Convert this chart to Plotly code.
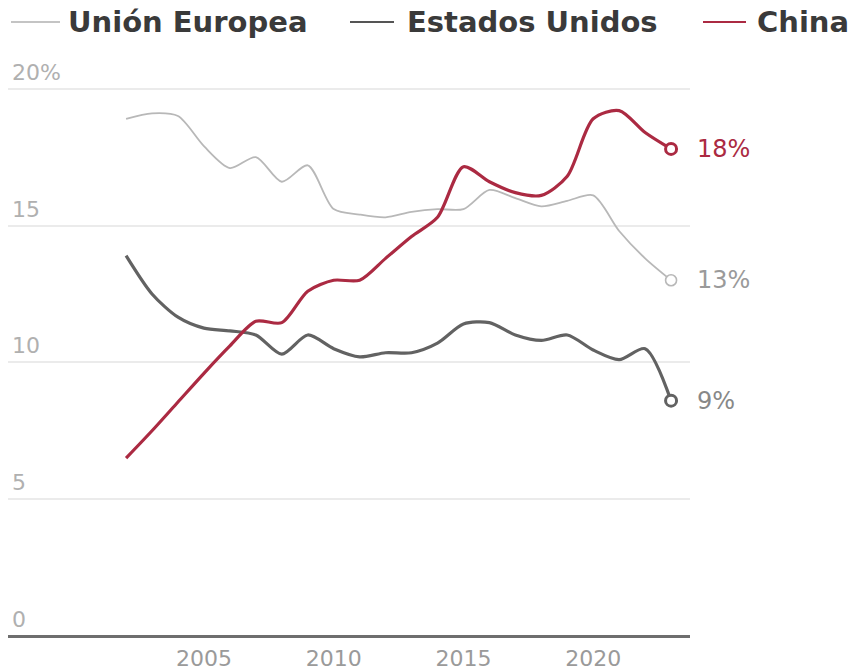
import plotly.graph_objects as go

# Share of the world total (%), 2002-2023
years = list(range(2002, 2024))
union_europea = [18.9, 19.1, 19.0, 17.9, 17.1, 17.5, 16.6, 17.2, 15.6, 15.4, 15.3,
                 15.5, 15.6, 15.6, 16.3, 16.0, 15.7, 15.9, 16.1, 14.8, 13.8, 13.0]
estados_unidos = [13.9, 12.5, 11.65, 11.25, 11.15, 11.0, 10.3, 11.0, 10.5, 10.2, 10.35,
                  10.35, 10.7, 11.4, 11.45, 11.0, 10.8, 11.0, 10.45, 10.1, 10.5, 8.6]
china = [6.5, 7.5, 8.55, 9.6, 10.6, 11.5, 11.45, 12.6, 13.0, 13.0, 13.8,
         14.6, 15.3, 17.15, 16.6, 16.2, 16.1, 16.8, 18.9, 19.2, 18.4, 17.8]

series_names = ["Unión Europea", "Estados Unidos", "China"]
x_ticks = [2005, 2010, 2015, 2020]
y_ticks = [0, 5, 10, 15, 20]
y_tick_text = ["0", "5", "10", "15", "20%"]

FONT = "DejaVu Sans"
W, H = 858, 671
M_L, M_R, M_T, M_B = 8, 168, 75, 35
styles = {
    "Unión Europea": dict(color="#b8b8b8", width=1.8, label="#9a9a9a", mline=1.6,
                          key="#c4c4c4"),
    "Estados Unidos": dict(color="#626262", width=3.2, label="#888888", mline=3,
                           key="#555555"),
    "China": dict(color="#ab2a42", width=3.2, label="#ab2a42", mline=3,
                  key="#ab2a42"),
}

# key row at the top: (line start, line end, text start) in pixels
key_layout = {
    "Unión Europea": (11, 60, 66),
    "Estados Unidos": (350, 394, 405),
    "China": (703, 746, 755),
}
KEY_Y = 22


def px_x(px):
    return (px - M_L) / (W - M_L - M_R)


def px_y(py):
    return (H - M_B - py) / (H - M_T - M_B)


fig = go.Figure()
series = [union_europea, estados_unidos, china]
for name, vals in zip(series_names, series):
    st = styles[name]
    fig.add_trace(go.Scatter(
        x=years, y=vals, mode="lines", name=name, showlegend=False,
        line=dict(color=st["color"], width=st["width"], shape="spline", smoothing=0.8),
        hoverinfo="skip",
    ))
for name, vals in zip(series_names, series):
    st = styles[name]
    fig.add_trace(go.Scatter(
        x=[years[-1]], y=[vals[-1]], mode="markers", showlegend=False,
        marker=dict(symbol="circle", size=11, color="white",
                    line=dict(color=st["color"], width=st["mline"])),
        hoverinfo="skip",
    ))
    fig.add_annotation(
        x=years[-1], y=vals[-1], text=f"{vals[-1]:.0f}%", showarrow=False,
        xanchor="left", yanchor="middle", xshift=24,
        font=dict(family=FONT, size=24, color=st["label"]),
    )

# key entries
for name in series_names:
    st = styles[name]
    x0, x1, xt = key_layout[name]
    fig.add_shape(type="line", xref="paper", yref="paper",
                  x0=px_x(x0), x1=px_x(x1), y0=px_y(KEY_Y), y1=px_y(KEY_Y),
                  line=dict(color=st["key"], width=2))
    fig.add_annotation(
        x=px_x(xt), y=px_y(KEY_Y), xref="paper", yref="paper", text=name,
        showarrow=False, xanchor="left", yanchor="middle",
        font=dict(family=FONT, size=29, color="#3a3a3a", weight="bold"),
    )

# y labels sit above their gridlines at the left edge
for v, t in zip(y_ticks, y_tick_text):
    fig.add_annotation(
        x=0, xref="paper", y=v, yref="y", text=t, showarrow=False,
        xanchor="left", yanchor="bottom", yshift=2, xshift=2,
        font=dict(family=FONT, size=22, color="#b0b0b0"),
    )

fig.update_layout(
    width=W, height=H,
    margin=dict(l=M_L, r=M_R, t=M_T, b=M_B, autoexpand=False),
    paper_bgcolor="white", plot_bgcolor="white",
    showlegend=False,
    xaxis=dict(
        range=[1997.45, 2023.73], tickvals=x_ticks, showgrid=False, zeroline=False,
        ticks="outside", ticklen=3, tickcolor="rgba(0,0,0,0)",
        tickfont=dict(family=FONT, size=22, color="#9a9a9a"),
        showline=False, fixedrange=True,
    ),
    yaxis=dict(
        range=[0, 20.5], tickvals=y_ticks, showticklabels=False,
        showgrid=True, gridcolor="#ebebeb", gridwidth=1.5,
        zeroline=True, zerolinecolor="#6e6e6e", zerolinewidth=3,
        fixedrange=True,
    ),
)

fig.write_html("out.html")
